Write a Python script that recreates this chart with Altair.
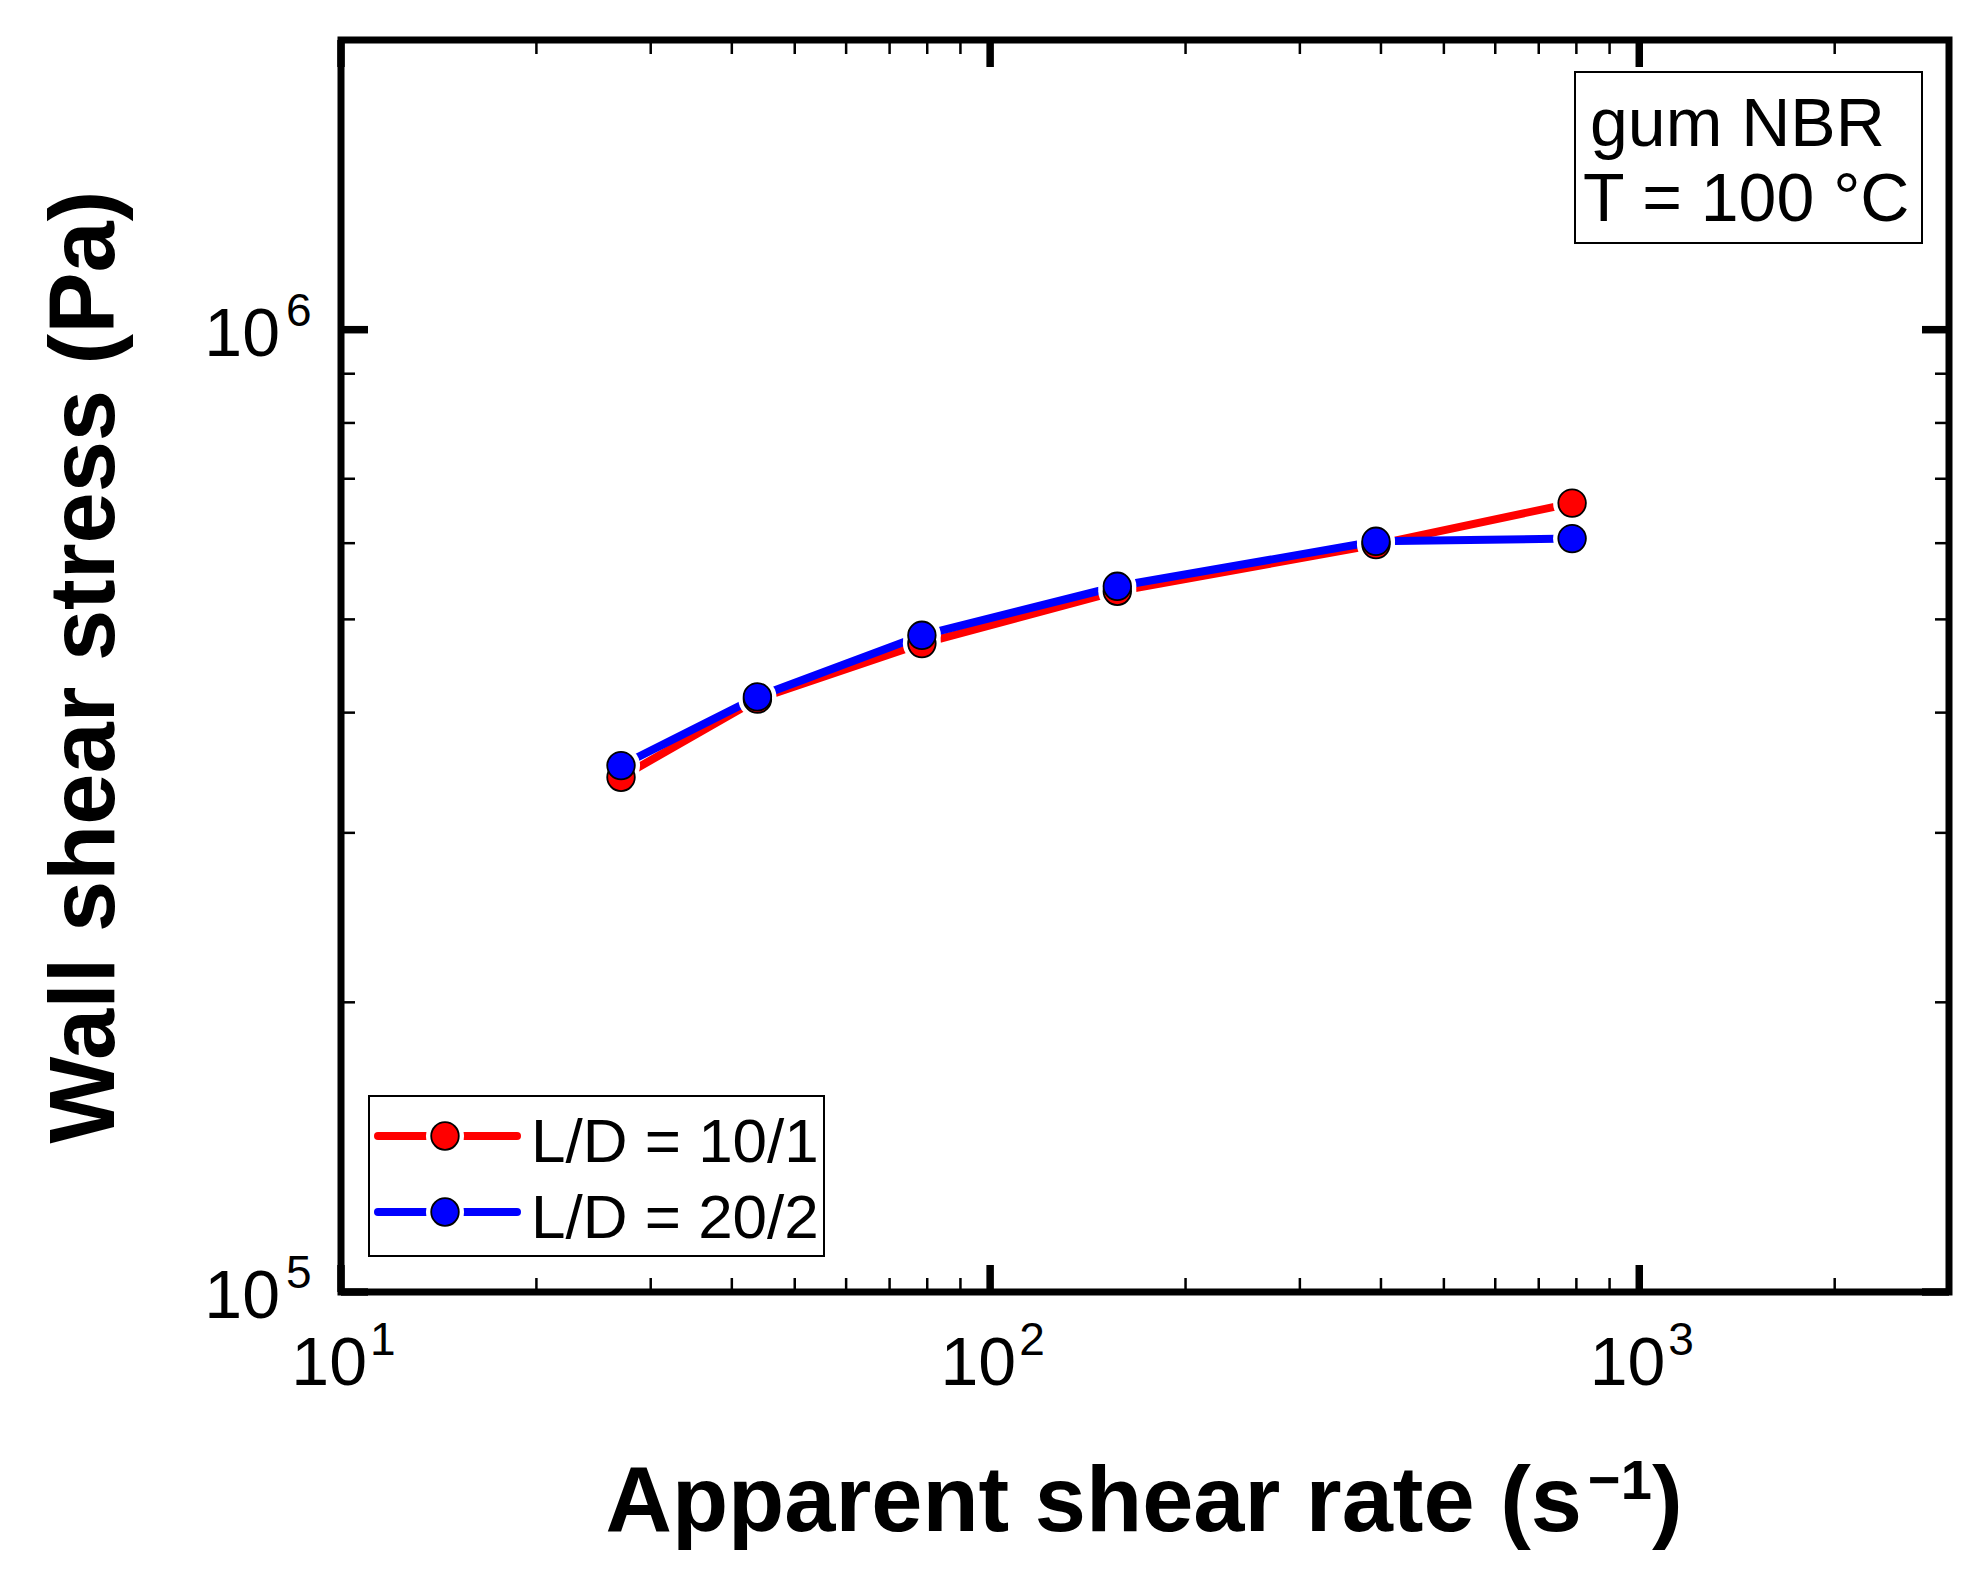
import altair as alt
import pandas as pd

# Measured flow curve of gum NBR at 100 °C for two capillary dies
rate = [27.0, 43.8, 78.5, 157.0, 393.0, 788.0]            # apparent shear rate, 1/s
stress_10_1 = [342700, 413100, 471900, 534800, 598000, 660400]  # Pa, L/D = 10/1
stress_20_2 = [352400, 415400, 481300, 541200, 602700, 606600]  # Pa, L/D = 20/2

series_names = ["L/D = 10/1", "L/D = 20/2"]
series_colors = ["#ff0000", "#0000ff"]

# Axis ticks (log scales)
x_major = [10, 100, 1000]
x_exp = ["1", "2", "3"]
x_minor = [20, 30, 40, 50, 60, 70, 80, 90,
           200, 300, 400, 500, 600, 700, 800, 900, 2000]
y_major = [1e5, 1e6]
y_exp = ["5", "6"]
y_minor = [2e5, 3e5, 4e5, 5e5, 6e5, 7e5, 8e5, 9e5]

x_title = ["Apparent shear rate (s", "\u22121", ")"]
y_title = "Wall shear stress (Pa)"
note_lines = ["gum NBR", "T = 100 \u00b0C"]

W, H = 1608, 1252
FONT = "Arial, Liberation Sans, sans-serif"
LINE_W = 8
SYMBOL = 760     # symbol area, px^2
HALO = 1450      # white gap around each symbol

xs = alt.Scale(type="log", domain=[10, 3000], nice=False)
ys = alt.Scale(type="log", domain=[1e5, 2e6], nice=False)


def X(field):
    return alt.X(field, scale=xs, axis=None)


def Y(field):
    return alt.Y(field, scale=ys, axis=None)


data = pd.DataFrame({
    "rate": rate * 2,
    "stress": stress_10_1 + stress_20_2,
    "series": [series_names[0]] * len(rate) + [series_names[1]] * len(rate),
})

layers = []


# ---- inward ticks on all four sides ----
def xticks(vals, length, width):
    df = pd.DataFrame({"v": vals})
    base = alt.Chart(df).mark_rule(color="black", strokeWidth=width)
    return [
        base.encode(x=X("v:Q"), y=alt.value(H), y2=alt.value(H - length)),
        base.encode(x=X("v:Q"), y=alt.value(0), y2=alt.value(length)),
    ]


def yticks(vals, length, width):
    df = pd.DataFrame({"v": vals})
    base = alt.Chart(df).mark_rule(color="black", strokeWidth=width)
    return [
        base.encode(y=Y("v:Q"), x=alt.value(0), x2=alt.value(length)),
        base.encode(y=Y("v:Q"), x=alt.value(W), x2=alt.value(W - length)),
    ]


layers += xticks(x_minor, 14, 2.5) + yticks(y_minor, 14, 2.5)
layers += xticks(x_major, 27, 7.5) + yticks(y_major, 27, 7.5)

# ---- data lines ----
for name, color in zip(series_names, series_colors):
    layers.append(
        alt.Chart(data[data.series == name].reset_index(drop=True)).mark_line(
            color=color, strokeWidth=LINE_W, strokeCap="butt"
        ).encode(x=X("rate:Q"), y=Y("stress:Q"), order="rate:Q")
    )

# white halos leave a small gap between lines and symbols
layers.append(
    alt.Chart(data).mark_circle(color="white", size=HALO, opacity=1).encode(
        x=X("rate:Q"), y=Y("stress:Q")
    )
)

# ---- symbols ----
for name, color in zip(series_names, series_colors):
    layers.append(
        alt.Chart(data[data.series == name].reset_index(drop=True)).mark_circle(
            fill=color, stroke="black", strokeWidth=1.8, size=SYMBOL, opacity=1
        ).encode(x=X("rate:Q"), y=Y("stress:Q"))
    )

# ---- tick labels with exponents ----
xl = pd.DataFrame({"v": x_major, "base": ["10"] * len(x_major), "exp": x_exp})
layers.append(
    alt.Chart(xl).mark_text(align="right", baseline="alphabetic", font=FONT,
                            fontSize=68, dx=26, color="black")
    .encode(x=X("v:Q"), y=alt.value(H + 93), text="base:N")
)
layers.append(
    alt.Chart(xl).mark_text(align="left", baseline="alphabetic", font=FONT,
                            fontSize=46, dx=29, color="black")
    .encode(x=X("v:Q"), y=alt.value(H + 63), text="exp:N")
)

yl = pd.DataFrame({"v": y_major, "base": ["10"] * len(y_major), "exp": y_exp})
layers.append(
    alt.Chart(yl).mark_text(align="right", baseline="alphabetic", font=FONT,
                            fontSize=68, dy=26, color="black")
    .encode(y=Y("v:Q"), x=alt.value(-61), text="base:N")
)
layers.append(
    alt.Chart(yl).mark_text(align="left", baseline="alphabetic", font=FONT,
                            fontSize=46, dy=-4, color="black")
    .encode(y=Y("v:Q"), x=alt.value(-55), text="exp:N")
)


# ---- free text ----
def label(text, x, y, size, bold=False, align="left", angle=0):
    kw = dict(align=align, baseline="alphabetic", font=FONT, fontSize=size,
              color="black", fontWeight="bold" if bold else "normal")
    if angle:
        kw["angle"] = angle
    return alt.Chart(pd.DataFrame({"t": [text]})).mark_text(**kw).encode(
        x=alt.value(x), y=alt.value(y), text="t:N"
    )


layers.append(label(x_title[0], 1241, 1491, 92, bold=True, align="right"))
layers.append(label(x_title[1], 1247, 1459, 56, bold=True))
layers.append(label(x_title[2], 1311, 1491, 92, bold=True))
layers.append(label(y_title, -227, 627, 92, bold=True, align="center", angle=270))

# ---- annotation box ----
layers.append(
    alt.Chart(pd.DataFrame({"t": ["box"]})).mark_rect(
        fill="white", stroke="black", strokeWidth=2
    ).encode(x=alt.value(1234), x2=alt.value(1581), y=alt.value(32), y2=alt.value(203))
)
layers.append(label(note_lines[0], 1249, 106, 68))
layers.append(label(note_lines[1], 1242, 181, 68))

# ---- legend ----
layers.append(
    alt.Chart(pd.DataFrame({"t": ["legend"]})).mark_rect(
        fill="white", stroke="black", strokeWidth=2
    ).encode(x=alt.value(28), x2=alt.value(483), y=alt.value(1056), y2=alt.value(1216))
)
row_y = [1096, 1172]
for name, color, ry in zip(series_names, series_colors, row_y):
    one = pd.DataFrame({"t": [name]})
    layers.append(
        alt.Chart(one).mark_rule(color=color, strokeWidth=LINE_W, strokeCap="round")
        .encode(x=alt.value(37), x2=alt.value(176), y=alt.value(ry))
    )
    layers.append(
        alt.Chart(one).mark_circle(color="white", size=HALO, opacity=1)
        .encode(x=alt.value(104), y=alt.value(ry))
    )
    layers.append(
        alt.Chart(one).mark_circle(fill=color, stroke="black", strokeWidth=1.8,
                                   size=SYMBOL, opacity=1)
        .encode(x=alt.value(104), y=alt.value(ry))
    )
    layers.append(label(name, 190, ry + 26, 62))

chart = alt.layer(*layers).properties(
    width=W, height=H,
    autosize=alt.AutoSizeParams(type="none"),
    padding={"left": 341, "top": 40, "right": 35, "bottom": 285},
    background="white",
).configure_view(stroke="black", strokeWidth=7)

chart.save("out.html", embed_options={"renderer": "svg", "actions": False})
